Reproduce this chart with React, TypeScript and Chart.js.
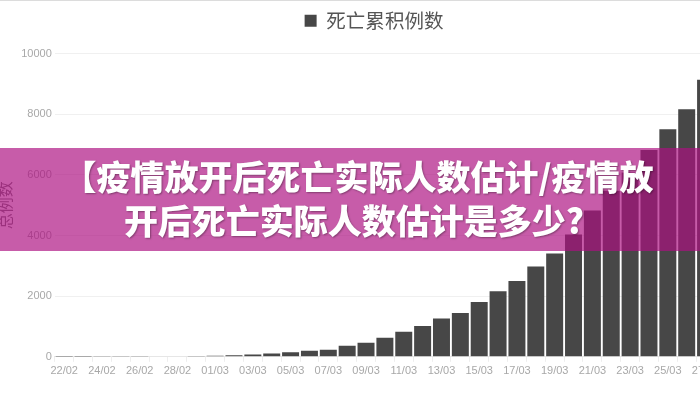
import React, { useEffect, useRef } from "react";
import { Chart, registerables } from "chart.js";

Chart.register(...registerables);

const dates = [
  "22/02", "23/02", "24/02", "25/02", "26/02", "27/02", "28/02", "29/02",
  "01/03", "02/03", "03/03", "04/03", "05/03", "06/03", "07/03", "08/03",
  "09/03", "10/03", "11/03", "12/03", "13/03", "14/03", "15/03", "16/03",
  "17/03", "18/03", "19/03", "20/03", "21/03", "22/03", "23/03", "24/03",
  "25/03", "26/03", "27/03",
];
const deaths = [
  2, 3, 7, 10, 12, 17, 21, 29,
  34, 52, 79, 107, 148, 197, 233, 366,
  463, 631, 827, 1016, 1266, 1441, 1809, 2158,
  2503, 2978, 3405, 4032, 4825, 5476, 6077, 6820,
  7503, 8165, 9134,
];
const yMax = 10000;
const yStep = 2000;
const legendLabel = "死亡累积例数";
const yTitle = "总例数";
const bannerLines = ["【疫情放开后死亡实际人数估计/疫情放", "开后死亡实际人数估计是多少?"];

const legendGap = {
  id: "legendGap",
  beforeInit(chart: any) {
    if (!chart.legend) return;
    const fit = chart.legend.fit;
    chart.legend.fit = function () {
      fit.bind(chart.legend)();
      this.height += 13;
    };
  },
};

export default function App() {
  const ref = useRef<HTMLCanvasElement | null>(null);

  useEffect(() => {
    if (!ref.current) return;
    const chart = new Chart(ref.current, {
      type: "bar",
      data: {
        labels: dates,
        datasets: [
          {
            label: legendLabel,
            data: deaths,
            backgroundColor: "#474747",
            borderWidth: 0,
            categoryPercentage: 0.9,
            barPercentage: 1,
            yAxisID: "y",
          },
        ],
      },
      plugins: [legendGap],
      options: {
        responsive: false,
        animation: false,
        layout: { padding: { top: 0, right: 0, bottom: 20, left: 0 } },
        plugins: {
          legend: {
            display: true,
            position: "top",
            labels: {
              boxWidth: 12,
              boxHeight: 12,
              color: "#555",
              font: { size: 19.5, family: "'Noto Sans CJK SC', sans-serif" },
              padding: 10,
            },
          },
          tooltip: { enabled: false },
        },
        scales: {
          x: {
            grid: { drawOnChartArea: false, drawTicks: true, tickLength: 5, color: "#eeeeee" },
            border: { color: "#e6e6e6" },
            ticks: {
              autoSkip: false,
              maxRotation: 0,
              color: "#a8a8a8",
              font: { size: 11, family: "'Liberation Sans', Arial, sans-serif" },
              padding: 3,
              callback: (_v: any, i: number) => (i % 2 === 0 ? dates[i] : ""),
            },
          },
          y: {
            min: 0,
            max: yMax,
            ticks: {
              stepSize: yStep,
              color: "#a8a8a8",
              font: { size: 11, family: "'Liberation Sans', Arial, sans-serif" },
              padding: 3,
              callback: (v: any) => String(v),
            },
            grid: { color: "#f0f0f0", drawTicks: false },
            border: { display: false },
            title: {
              display: true,
              text: yTitle,
              color: "#777",
              font: { size: 16, family: "'Noto Sans CJK SC', serif" },
              padding: 4,
            },
          },
          yPad: {
            position: "right",
            display: true,
            grid: { display: false, drawTicks: false },
            border: { display: false },
            ticks: { display: false },
            afterFit: (s: any) => {
              s.width = 42;
            },
          },
        },
      },
    });
    return () => chart.destroy();
  }, []);

  return (
    <div
      style={{
        position: "fixed",
        left: 0,
        top: 0,
        width: 700,
        height: 400,
        overflow: "hidden",
        background: "#fff",
        borderTop: "1px solid #dcdcdc",
        boxSizing: "border-box",
      }}
    >
      <canvas
        ref={ref}
        width={766}
        height={400}
        style={{ position: "absolute", left: -9, top: 0, display: "block" }}
      />
      <div
        style={{
          position: "absolute",
          left: 0,
          top: 147,
          width: 700,
          height: 103,
          background: "rgba(172, 15, 128, 0.68)",
        }}
      />
      <div
        style={{
          position: "absolute",
          left: 0,
          top: 153,
          width: 716,
          textAlign: "center",
          color: "#fff",
          fontFamily: "'Noto Sans CJK SC', sans-serif",
          fontWeight: 900,
          fontSize: 34,
          lineHeight: "44px",
          textShadow: "1px 1px 2px rgba(0,0,0,0.35)",
          whiteSpace: "nowrap",
        }}
      >
        {bannerLines.map((l, i) => (
          <div key={i} style={{ paddingRight: i === 1 ? 8 : 0 }}>
            {l}
          </div>
        ))}
      </div>
    </div>
  );
}
